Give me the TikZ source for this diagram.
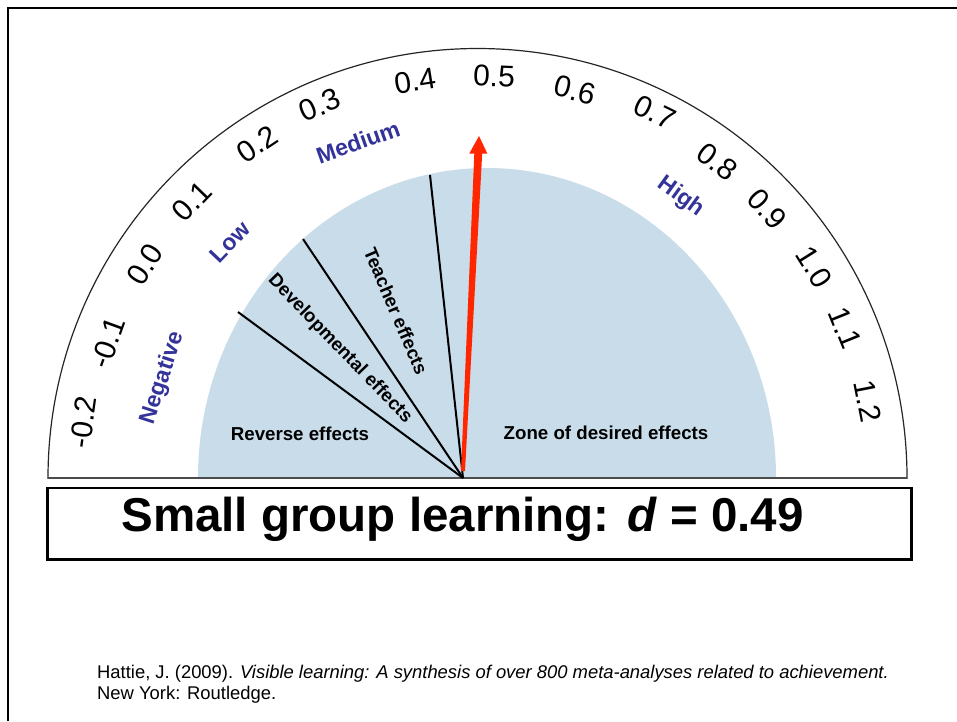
\documentclass[tikz,border=0pt]{standalone}
\usepackage{fontspec}
\setmainfont{Liberation Sans}
\definecolor{zone}{RGB}{200,220,234}
\definecolor{catblue}{RGB}{51,51,153}
\definecolor{needle}{RGB}{255,38,0}
\begin{document}
\begin{tikzpicture}[x=1pt,y=-1pt,
  num/.style={inner sep=0pt, font=\fontsize{30}{30}\selectfont},
  catlbl/.style={inner sep=0pt, text=catblue, font=\fontsize{23}{23}\selectfont\bfseries},
  zonelbl/.style={inner sep=0pt, font=\fontsize{18.7}{18.7}\selectfont\bfseries},
  divider/.style={line width=2pt, black},
  citation/.style={anchor=base west, inner sep=0pt, font=\fontsize{18.4}{21}\selectfont},
]
\useasboundingbox (0,0) rectangle (957,721);
\fill[white] (0,0) rectangle (957,721);
% slide frame
\draw[line width=2pt] (8.2,721) -- (8.2,8.3) -- (957,8.3);
% zone and outer scale arc
\begin{scope}
  \clip (0,0) rectangle (957,478);
  \fill[zone] (487,478) ellipse [x radius=289, y radius=310];
  \draw[line width=1.2pt, black!85] (477.5,478) circle [radius=429.5];
\end{scope}
\draw[line width=1.5pt, black!70] (48,478) -- (907,478);
% dividers
\coordinate (O) at (463,478);
\coordinate (r1) at (238,312);
\coordinate (r2) at (303,239);
\coordinate (r3) at (430,175);
\draw[divider] (O) -- (r1);
\draw[divider] (O) -- (r2);
\draw[divider] (O) -- (r3);
% needle
\coordinate (nb1) at (461,471);
\coordinate (nb2) at (465,471);
\coordinate (ns1) at (474.3,153.5);
\coordinate (ns2) at (482.2,153.5);
\coordinate (nh1) at (469.3,153.5);
\coordinate (nh2) at (487.3,153.5);
\coordinate (tip) at (479,136);
\fill[needle] (nb1) -- (ns1) -- (nh1) -- (tip) -- (nh2) -- (ns2) -- (nb2) -- cycle;
% scale numbers
\node[num, rotate=82]   (n1)  at (83,422)  {-0.2};
\node[num, rotate=70]   (n2)  at (108,343) {-0.1};
\node[num, rotate=57]   (n3)  at (145,264) {0.0};
\node[num, rotate=46]   (n4)  at (192,201) {0.1};
\node[num, rotate=33.5] (n5)  at (257,144) {0.2};
\node[num, rotate=23]   (n6)  at (320,105) {0.3};
\node[num, rotate=9]    (n7)  at (415,81)  {0.4};
\node[num, rotate=-2.3] (n8)  at (494,76)  {0.5};
\node[num, rotate=-14]  (n9)  at (575,90)  {0.6};
\node[num, rotate=-26]  (n10) at (655,112) {0.7};
\node[num, rotate=-37]  (n11) at (717,162) {0.8};
\node[num, rotate=-47]  (n12) at (767,209) {0.9};
\node[num, rotate=-58]  (n13) at (814,267) {1.0};
\node[num, rotate=-68]  (n14) at (845,328) {1.1};
\node[num, rotate=-79]  (n15) at (868,401) {1.2};
% category labels
\node[catlbl, rotate=72]   (neg) at (163,378) {Negative};
\node[catlbl, rotate=46.5] (low) at (230,242) {Low};
\node[catlbl, rotate=19.5] (med) at (358,142) {Medium};
\node[catlbl, rotate=-36]  (high) at (681,197) {High};
% zone labels
\node[zonelbl] (rev) at (300,434) {Reverse effects};
\node[zonelbl, rotate=-46] (dev) at (340,349) {Developmental effects};
\node[zonelbl, rotate=-67] (tea) at (396,311) {Teacher effects};
\node[zonelbl] (des) at (606,433) {Zone of desired effects};
% title box
\node[draw, line width=2.5pt, minimum width=864.4pt, minimum height=71.5pt, inner sep=0pt] (box) at (479.5,523.75) {};
\node[anchor=base, inner sep=0pt, font=\fontsize{47.5}{47.5}\selectfont\bfseries] (title) at (462.5,531.7) {Small group learning: \textit{d} = 0.49};
% citation
\node[citation] (cit1) at (97,678) {Hattie, J. (2009). \textit{Visible learning: A synthesis of over 800 meta-analyses related to achievement.}};
\node[citation] (cit2) at (97,699) {New York: Routledge.};
\end{tikzpicture}
\end{document}
